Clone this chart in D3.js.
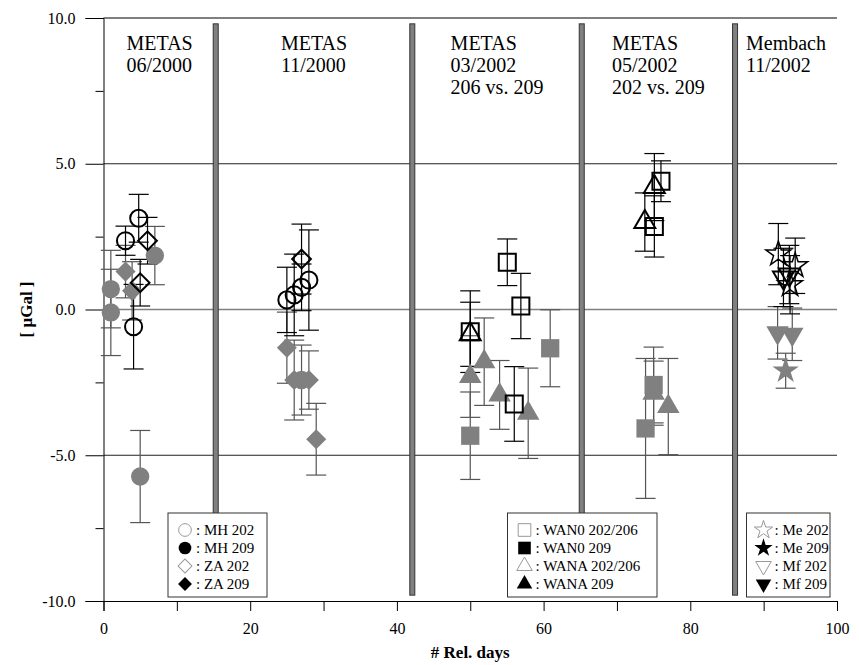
<!DOCTYPE html>
<html>
<head>
<meta charset="utf-8">
<script src="https://cdn.jsdelivr.net/npm/d3@7"></script>
<style>
body { margin: 0; background: #fff; }
text { font-family: "Liberation Serif", "Times New Roman", serif; }
</style>
</head>
<body>
<svg id="chart" width="859" height="665"></svg>
<script>
// every point: [rel. day, value in µGal, error]
const mh202 = [[3.0, 2.36, 0.5], [4.8, 3.13, 0.82], [4.1, -0.59, 1.45],
               [25.0, 0.33, 1.12], [26.0, 0.5, 1.4], [27.0, 0.76, 0.8], [28.0, 1.01, 1.72]];
const mh209 = [[1.0, 0.7, 1.33], [1.0, -0.1, 1.48], [5.0, -5.73, 1.58], [7.0, 1.85, 1.0],
               [27.0, -2.42, 1.2]];
const za202 = [[6.0, 2.36, 0.8], [5.0, 0.92, 0.8], [27.0, 1.73, 1.2]];
const za209 = [[3.0, 1.3, 0.9], [3.9, 0.64, 1.0],
               [25.0, -1.31, 1.22], [26.0, -2.42, 1.37], [28.0, -2.42, 1.0], [29.0, -4.45, 1.23]];

const wan0_202 = [[55.05, 1.62, 0.8], [56.9, 0.12, 1.12], [50.0, -0.76, 1.4], [56.0, -3.24, 1.28],
                  [75.1, 2.85, 1.05], [76.0, 4.4, 0.7]];
const wan0_209 = [[50.0, -4.33, 1.5], [60.9, -1.33, 1.32], [73.9, -4.08, 2.4], [75.0, -2.59, 1.3]];
const wana_202 = [[50.0, -0.85, 1.1], [73.8, 3.0, 1.0], [75.1, 4.2, 1.15]];
const wana_209 = [[50.0, -2.3, 1.4], [51.9, -1.79, 1.5], [54.0, -2.93, 1.18], [57.9, -3.56, 1.55],
                  [75.0, -2.87, 1.1], [77.0, -3.33, 1.65]];

const me202 = [[92.0, 1.9, 1.05], [94.3, 1.5, 0.95], [93.6, 0.85, 1.0]];
const me209 = [[93.0, -2.1, 0.6]];
const mf202 = [[92.7, 1.1, 1.0], [93.5, 1.2, 1.0]];
const mf209 = [[91.9, -0.8, 0.9], [93.9, -0.85, 0.9]];

const separators = [15.3, 42.1, 65.2, 86.1];
const groupLabels = [["METAS", "06/2000"], ["METAS", "11/2000"],
                     ["METAS", "03/2002", "206 vs. 209"], ["METAS", "05/2002", "202 vs. 209"],
                     ["Membach", "11/2002"]];
const xLabelTicks = [0, 20, 40, 60, 80, 100];
const yMajorTicks = [-10, -5, 0, 5, 10];
const yMinorTicks = [-7.5, -2.5, 2.5, 7.5];
const gridValues = [-5, 0, 5];

const svg = d3.select("#chart");
const x = d3.scaleLinear().domain([0, 100]).range([103.5, 837]);
const y = d3.scaleLinear().domain([-10, 10]).range([601, 18]);

const GRAY = "#808080";

// grid lines
svg.selectAll("line.grid").data(gridValues).enter().append("line")
  .attr("x1", x(0)).attr("x2", x(100))
  .attr("y1", d => y(d)).attr("y2", d => y(d))
  .attr("stroke", d => d === 0 ? GRAY : "#222").attr("stroke-width", d => d === 0 ? 1.5 : 1);
svg.append("line").attr("x1", x(0)).attr("x2", x(100)).attr("y1", y(10)).attr("y2", y(10))
  .attr("stroke", "#000");

// axes
svg.append("g").attr("transform", `translate(${x(0)},0)`)
  .call(d3.axisLeft(y).tickValues(yMajorTicks).tickSize(18).tickPadding(10)
        .tickFormat(d => d.toFixed(1)));
svg.append("g").attr("transform", `translate(${x(0)},0)`)
  .call(d3.axisLeft(y).tickValues(yMinorTicks).tickSize(8).tickFormat(""))
  .select(".domain").remove();
svg.append("g").attr("transform", `translate(0,${y(-10)})`)
  .call(d3.axisBottom(x).tickValues(d3.range(0, 101, 10)).tickSize(10).tickPadding(12)
        .tickFormat(d => xLabelTicks.includes(d) ? d : ""));
svg.selectAll(".tick text").attr("font-size", 16).attr("fill", "#000")
  .style("font-family", "'Liberation Serif', serif");
svg.selectAll(".domain, .tick line").attr("stroke", "#000");

svg.append("text").attr("x", (x(0) + x(100)) / 2).attr("y", 658)
  .attr("text-anchor", "middle").attr("font-size", 17).attr("font-weight", "bold")
  .text("# Rel. days");
svg.append("text").attr("transform", `translate(32,${y(0)}) rotate(-90)`)
  .attr("text-anchor", "middle").attr("font-size", 17).attr("font-weight", "bold")
  .text("[ µGal ]");

// separators between campaigns
svg.selectAll("rect.sep").data(separators).enter().append("rect")
  .attr("x", d => x(d) - 2.5).attr("width", 5)
  .attr("y", y(9.8)).attr("height", y(-9.8) - y(9.8))
  .attr("fill", GRAY).attr("stroke", "#333").attr("stroke-width", 1);

// campaign labels, left aligned block centred in each section
const bounds = [0, ...separators, 100];
groupLabels.forEach((lines, i) => {
  const cx = x((bounds[i] + bounds[i + 1]) / 2);
  const t = svg.append("text").attr("font-size", 20);
  lines.forEach((l, j) => t.append("tspan").attr("y", 50 + j * 22).text(l));
  let w = 0;
  t.selectAll("tspan").each(function () { w = Math.max(w, this.getComputedTextLength()); });
  t.selectAll("tspan").attr("x", cx - w / 2);
});

// marker shapes
const shapes = {
  circle: { type: d3.symbolCircle, rot: 0 },
  diamond: { type: d3.symbolSquare, rot: 45 },
  square: { type: d3.symbolSquare, rot: 0 },
  triangle: { type: d3.symbolTriangle, rot: 0 },
  star: { type: d3.symbolStar, rot: 0 },
  down: { type: d3.symbolTriangle, rot: 180 }
};
const sizes = { circle: 230, diamond: 175, square: 290, triangle: 190, star: 190, down: 190 };

function errorBars(data, color) {
  const g = svg.append("g").attr("stroke", color).attr("stroke-width", 1.2);
  data.forEach(([d, v, e]) => {
    g.append("line").attr("x1", x(d)).attr("x2", x(d)).attr("y1", y(v + e)).attr("y2", y(v - e));
    [v + e, v - e].forEach(c => g.append("line")
      .attr("x1", x(d) - 10).attr("x2", x(d) + 10).attr("y1", y(c)).attr("y2", y(c)));
  });
}
function markers(data, shape, filled) {
  const s = shapes[shape];
  const sym = d3.symbol().type(s.type).size(sizes[shape] * (filled ? 1.15 : 1));
  svg.append("g").selectAll("path").data(data).enter().append("path")
    .attr("transform", d => `translate(${x(d[0])},${y(d[1])}) rotate(${s.rot})`)
    .attr("d", sym)
    .attr("fill", filled ? GRAY : "none")
    .attr("stroke", filled ? "none" : "#000")
    .attr("stroke-width", shape === "star" ? 1.5 : 2);
}

const filledSeries = [[mh209, "circle"], [za209, "diamond"], [wan0_209, "square"],
                      [wana_209, "triangle"], [me209, "star"], [mf209, "down"]];
const openSeries = [[mh202, "circle"], [za202, "diamond"], [wan0_202, "square"],
                    [wana_202, "triangle"], [me202, "star"], [mf202, "down"]];

filledSeries.forEach(([d]) => errorBars(d, "#555"));
openSeries.forEach(([d]) => errorBars(d, "#000"));
filledSeries.forEach(([d, s]) => markers(d, s, true));
openSeries.forEach(([d, s]) => markers(d, s, false));

// legends
const legends = [
  { x0: 168, x1: 267, items: [["circle", false, ": MH 202"], ["circle", true, ": MH 209"],
                               ["diamond", false, ": ZA 202"], ["diamond", true, ": ZA 209"]] },
  { x0: 507.5, x1: 657, items: [["square", false, ": WAN0 202/206"], ["square", true, ": WAN0 209"],
                                 ["triangle", false, ": WANA 202/206"], ["triangle", true, ": WANA 209"]] },
  { x0: 746.5, x1: 830, items: [["star", false, ": Me 202"], ["star", true, ": Me 209"],
                                 ["down", false, ": Mf 202"], ["down", true, ": Mf 209"]] }
];
legends.forEach(lg => {
  const g = svg.append("g");
  g.append("rect").attr("x", lg.x0).attr("y", 513).attr("width", lg.x1 - lg.x0).attr("height", 84)
    .attr("fill", "#fff").attr("stroke", "#333");
  lg.items.forEach(([shape, filled, label], i) => {
    const cy = 530 + i * 18;
    const s = shapes[shape];
    g.append("path").attr("transform", `translate(${lg.x0 + 17},${cy}) rotate(${s.rot})`)
      .attr("d", d3.symbol().type(s.type).size(sizes[shape] * 0.55))
      .attr("fill", filled ? "#000" : "#fff").attr("stroke", filled ? "none" : "#999");
    g.append("text").attr("x", lg.x0 + 28).attr("y", cy + 5).attr("font-size", 15).text(label);
  });
});
</script>
</body>
</html>
